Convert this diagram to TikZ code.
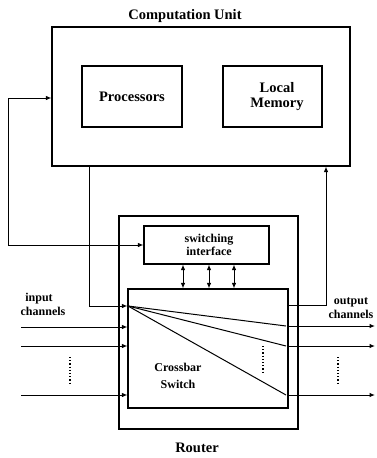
\documentclass[tikz,border=0pt]{standalone}
\usepackage{fontspec}
\setmainfont{Liberation Serif}
\usetikzlibrary{arrows.meta}
\tikzset{
  box/.style={draw, line width=1.1pt, rectangle, inner sep=0pt},
  big/.style={font=\bfseries\fontsize{14.5}{16}\selectfont, align=center},
  small/.style={font=\bfseries\fontsize{12}{13.5}\selectfont, align=center},
  wire/.style={line width=1pt},
  arr/.style={wire, -{Latex[length=5.5pt,width=4.5pt]}},
  darr/.style={wire, {Latex[length=5.5pt,width=4.5pt]}-{Latex[length=5.5pt,width=4.5pt]}},
  dots/.style={line width=1.2pt, dotted},
}
\begin{document}
\begin{tikzpicture}[x=1pt,y=-1pt]
\useasboundingbox (0,0) rectangle (376,458);
% boxes
\node[box, minimum width=298pt, minimum height=139pt] (cu) at (201,96.5) {};
\node[box, big, minimum width=100pt, minimum height=61pt] (proc) at (132,96.5) {Processors};
\node[box, minimum width=99pt, minimum height=61pt] (mem) at (272.5,96.5) {};
\node[big, anchor=center] (memt) at (277,96.5) {Local\\[-1pt]Memory};
\node[box, minimum width=179pt, minimum height=213pt] (router) at (208.5,322.5) {};
\node[box, minimum width=125pt, minimum height=38pt] (swi) at (206.5,245) {};
\node[small] (switxt) at (209,245) {switching\\[-1pt]interface};
\node[box, minimum width=160pt, minimum height=119pt] (xbar) at (208,348.5) {};
\node[small] (xbtxt) at (178,376) {Crossbar\\[4pt]Switch};
% titles
\node[big] (cutitle) at (185,16) {Computation Unit};
\node[big] (rtitle) at (197,448) {Router};
\node[small] (inlab) at (43,304.5) {\hspace*{-8pt}input\\[0pt]channels};
\node[small] (outlab) at (351,308) {output\\[0pt]channels};
% coordinates
\coordinate (lx) at (8,98);
\coordinate (ly) at (8,245);
\coordinate (x1) at (89,306);
\coordinate (x2) at (326,305);
\coordinate (i1) at (21,327);
\coordinate (i2) at (21,346);
\coordinate (i3) at (21,395);
\coordinate (o1) at (375,326);
\coordinate (o2) at (375,346);
\coordinate (o3) at (375,395);
\coordinate (d1) at (286,326);
\coordinate (d2) at (286,346);
\coordinate (d3) at (286,395);
\coordinate (s) at (128,306);
% loop to CU and switching interface
\draw[darr] (cu.west |- lx) -- (lx) -- (ly) -- (swi.west);
% CU to crossbar
\draw[arr] (cu.south -| x1) |- (xbar.west |- x1);
% crossbar to CU
\draw[arr] (xbar.east |- x2) -| (cu.south -| x2);
% switching interface <-> crossbar
\foreach \x in {183,209,234} {
  \draw[darr] (swi.south -| \x,0) -- (xbar.north -| \x,0);
}
% inputs
\draw[arr] (i1) -- (xbar.west |- i1);
\draw[arr] (i2) -- (xbar.west |- i2);
\draw[arr] (i3) -- (xbar.west |- i3);
% outputs
\draw[arr] (xbar.east |- o1) -- (o1);
\draw[arr] (xbar.east |- o2) -- (o2);
\draw[arr] (xbar.east |- o3) -- (o3);
% diagonals
\draw[wire] (s) -- (d1);
\draw[wire] (s) -- (d2);
\draw[wire] (s) -- (d3);
% dotted
\draw[dots] (70,357) -- (70,383);
\draw[dots] (263,346) -- (263,373);
\draw[dots] (338,357) -- (338,383);
\end{tikzpicture}
\end{document}
